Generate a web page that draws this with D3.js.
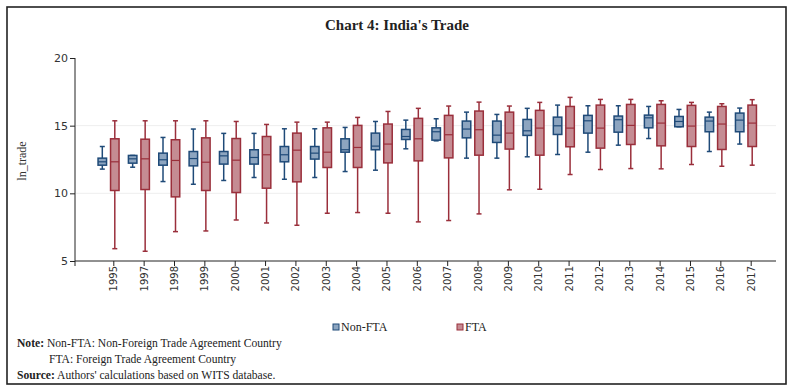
<!DOCTYPE html>
<html><head><meta charset="utf-8">
<script src="https://cdn.jsdelivr.net/npm/d3@7"></script>
<style>
html,body{margin:0;padding:0;background:#fff;}
svg{display:block;}
</style></head>
<body>
<svg id="chart" width="796" height="391"></svg>
<script>
const years = ["1995","1997","1998","1999","2000","2001","2002","2003","2004","2005","2006","2007","2008","2009","2010","2011","2012","2013","2014","2015","2016","2017"];
const yTicks = [5,10,15,20];
const seriesNames = ["Non-FTA","FTA"];

// Non-FTA box statistics
const nonLow  = [11.79,11.93,10.87,10.67,10.95,11.17,11.04,11.17,11.61,11.71,13.29,13.88,12.60,12.60,12.70,12.87,13.04,13.56,14.05,14.92,13.09,13.64];
const nonQ1   = [12.08,12.23,12.08,12.03,12.16,12.16,12.33,12.53,13.04,13.22,13.98,13.93,14.10,13.76,14.28,14.35,14.45,14.52,14.84,14.92,14.55,14.55];
const nonMed  = [12.33,12.55,12.48,12.57,12.77,12.65,12.85,12.97,13.22,13.49,14.20,14.55,14.75,14.30,14.62,14.99,15.36,15.44,15.58,15.31,15.34,15.41];
const nonQ3   = [12.60,12.80,12.97,13.09,13.09,13.22,13.46,13.46,14.03,14.45,14.72,14.84,15.34,15.34,15.46,15.63,15.76,15.71,15.78,15.68,15.63,15.93];
const nonHigh = [13.46,12.80,14.13,14.75,14.43,14.43,14.77,14.77,14.87,15.31,15.41,15.51,16.00,15.83,16.28,16.52,16.47,16.47,16.42,16.20,16.00,16.30];

// FTA box statistics
const ftaLow  = [5.91,5.72,7.17,7.22,8.03,7.81,7.64,8.53,8.58,8.53,7.89,7.99,8.48,10.26,10.30,11.39,11.76,11.83,11.81,12.13,12.00,12.08];
const ftaQ1   = [10.21,10.28,9.74,10.21,10.06,10.38,10.85,11.91,11.91,12.25,12.40,12.62,12.82,13.27,12.82,13.44,13.34,13.61,13.51,13.46,13.24,13.46];
const ftaMed  = [12.33,12.55,12.43,12.30,12.45,12.85,13.19,13.04,13.39,13.64,14.03,14.33,14.70,14.45,14.82,14.82,14.82,15.02,15.19,14.97,15.12,15.19];
const ftaQ3   = [14.03,14.00,13.96,14.10,14.05,14.20,14.45,14.84,15.02,15.12,15.54,15.76,16.08,16.00,16.13,16.42,16.52,16.57,16.57,16.50,16.42,16.52];
const ftaHigh = [15.36,15.36,15.36,15.36,15.31,15.09,15.26,15.26,15.61,16.05,16.28,16.45,16.74,16.45,16.72,17.09,16.94,16.94,16.84,16.72,16.62,16.92];

const svg = d3.select("#chart");

// outer frame
svg.append("rect").attr("x",7).attr("y",7).attr("width",779).attr("height",377)
  .attr("fill","none").attr("stroke","#222").attr("stroke-width",1.6);

// title
svg.append("text").attr("x",397).attr("y",30).attr("text-anchor","middle")
  .attr("font-family","Liberation Serif, serif").attr("font-weight","bold").attr("font-size",15)
  .attr("fill","#222").text("Chart 4: India's Trade");

const y = d3.scaleLinear().domain([5,20]).range([261,58]);
const x = d3.scalePoint().domain(years).range([113.3,750.7]);

// gridlines
svg.append("g").selectAll("line").data([10,15]).join("line")
  .attr("x1",76).attr("x2",776).attr("y1",d=>y(d)).attr("y2",d=>y(d))
  .attr("stroke","#eeeeee").attr("stroke-width",1);

// y axis
const yAxis = d3.axisLeft(y).tickValues(yTicks).tickSize(5).tickPadding(2);
const ya = svg.append("g").attr("transform","translate(75,0)").call(yAxis);
ya.select(".domain").remove();
ya.append("line").attr("x1",0).attr("x2",0).attr("y1",y(20)).attr("y2",266).attr("stroke","#222");
ya.selectAll(".tick line").attr("stroke","#222");
ya.selectAll(".tick text").attr("font-family","DejaVu Sans, sans-serif").attr("font-size",11).attr("fill","#333");

// x axis
const xAxis = d3.axisBottom(x).tickSize(5).tickPadding(3);
const xa = svg.append("g").attr("transform","translate(0,261)").call(xAxis);
xa.select(".domain").remove();
xa.append("line").attr("x1",75).attr("x2",776).attr("y1",0).attr("y2",0).attr("stroke","#222");
xa.selectAll(".tick line").attr("stroke","#222");
xa.selectAll(".tick text")
  .attr("font-family","DejaVu Sans, sans-serif").attr("font-size",10).attr("fill","#333")
  .attr("text-anchor","end").attr("dy","0.35em")
  .attr("transform","translate(0,5) rotate(-90)")
  .attr("x",0).attr("y",0);

// y label
svg.append("text").attr("transform","translate(26,161) rotate(-90)").attr("text-anchor","middle")
  .attr("font-family","Liberation Serif, serif").attr("font-size",12).attr("fill","#333").text("ln_trade");

// boxes
const series = [
  {low:nonLow,q1:nonQ1,med:nonMed,q3:nonQ3,high:nonHigh, off:-11, fill:"#8da5c0", stroke:"#1f4a78"},
  {low:ftaLow,q1:ftaQ1,med:ftaMed,q3:ftaQ3,high:ftaHigh, off:1.5, fill:"#c58c93", stroke:"#9a2f3b"}
];
const bw = 8.5, cw = 5;
series.forEach(s=>{
  const sg = svg.append("g");
  years.forEach((yr,i)=>{
    const cx = x(yr)+s.off;
    const gg = sg.append("g");
    gg.append("line").attr("x1",cx).attr("x2",cx).attr("y1",y(s.high[i])).attr("y2",y(s.q3[i]))
      .attr("stroke",s.stroke).attr("stroke-width",1.5);
    gg.append("line").attr("x1",cx).attr("x2",cx).attr("y1",y(s.q1[i])).attr("y2",y(s.low[i]))
      .attr("stroke",s.stroke).attr("stroke-width",1.5);
    gg.append("line").attr("x1",cx-cw/2).attr("x2",cx+cw/2).attr("y1",y(s.high[i])).attr("y2",y(s.high[i]))
      .attr("stroke",s.stroke).attr("stroke-width",1.5);
    gg.append("line").attr("x1",cx-cw/2).attr("x2",cx+cw/2).attr("y1",y(s.low[i])).attr("y2",y(s.low[i]))
      .attr("stroke",s.stroke).attr("stroke-width",1.5);
    gg.append("rect").attr("x",cx-bw/2).attr("width",bw)
      .attr("y",y(s.q3[i])).attr("height",y(s.q1[i])-y(s.q3[i]))
      .attr("fill",s.fill).attr("stroke",s.stroke).attr("stroke-width",1.5);
    gg.append("line").attr("x1",cx-bw/2).attr("x2",cx+bw/2).attr("y1",y(s.med[i])).attr("y2",y(s.med[i]))
      .attr("stroke",s.stroke).attr("stroke-width",1.2);
  });
});

// legend
const legX = [333,457];
series.forEach((s,i)=>{
  svg.append("rect").attr("x",legX[i]).attr("y",324).attr("width",6).attr("height",6)
    .attr("fill",s.fill).attr("stroke",s.stroke).attr("stroke-width",1);
  svg.append("text").attr("x",legX[i]+8).attr("y",330.5)
    .attr("font-family","Liberation Serif, serif").attr("font-size",12).attr("fill","#222").text(seriesNames[i]);
});

// notes
const notes = svg.append("g").attr("font-family","Liberation Serif, serif").attr("font-size",11.6).attr("fill","#222");
const t1 = notes.append("text").attr("x",17).attr("y",347);
t1.append("tspan").attr("font-weight","bold").text("Note:");
t1.append("tspan").text(" Non-FTA: Non-Foreign Trade Agreement Country");
notes.append("text").attr("x",49).attr("y",363).text("FTA: Foreign Trade Agreement Country");
const t3 = notes.append("text").attr("x",17).attr("y",379);
t3.append("tspan").attr("font-weight","bold").text("Source:");
t3.append("tspan").text(" Authors' calculations based on WITS database.");
</script>
</body></html>
